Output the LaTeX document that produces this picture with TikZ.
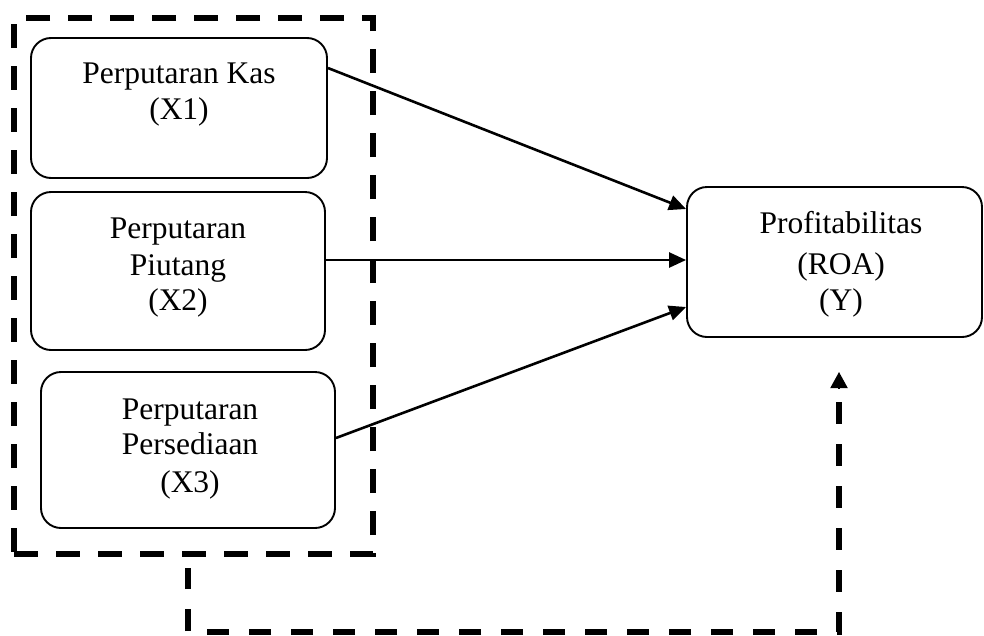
\documentclass[tikz,border=0pt]{standalone}
\usepackage{fontspec}
\setmainfont{Liberation Serif}
\usetikzlibrary{arrows.meta}
\begin{document}
\begin{tikzpicture}[x=1pt,y=-1pt,
  box/.style={draw, rounded corners=20pt, line width=1.9pt, inner sep=0pt},
  lbl/.style={anchor=base, inner sep=0pt, font=\fontsize{31.5}{37}\selectfont},
  arr/.style={line width=2.6pt, -{Triangle[length=17pt,width=15pt]}},
  grpline/.style={line width=5.5pt, dash pattern=on 24pt off 18pt},
  fbline/.style={line width=5.5pt, dash pattern=on 22pt off 20pt}]
\useasboundingbox (0,0) rectangle (984,635);
% group frame
\node[draw, grpline, minimum width=359pt, minimum height=536pt, inner sep=0pt] (grp) at (193.5,286) {};
% boxes
\node[box, minimum width=296pt, minimum height=140pt] (b1) at (179,108) {};
\node[box, minimum width=294pt, minimum height=158pt] (b2) at (178,271) {};
\node[box, minimum width=294pt, minimum height=156pt] (b3) at (188,450) {};
\node[box, minimum width=295pt, minimum height=150pt] (yb) at (834.5,262) {};
% labels
\node[lbl] (t1a) at (179,83) {Perputaran Kas};
\node[lbl] (t1b) at (179,119) {(X1)};
\node[lbl] (t2a) at (178,238) {Perputaran};
\node[lbl] (t2b) at (178,275) {Piutang};
\node[lbl] (t2c) at (178,310) {(X2)};
\node[lbl] (t3a) at (190,419) {Perputaran};
\node[lbl] (t3b) at (190,454) {Persediaan};
\node[lbl] (t3c) at (190,492) {(X3)};
\node[lbl] (tya) at (841,233) {Profitabilitas};
\node[lbl] (tyb) at (841,274) {(ROA)};
\node[lbl] (tyc) at (841,310) {(Y)};
% arrows
\draw[arr] ([yshift=40pt]b1.east) -- ([yshift=53pt]yb.west);
\draw[arr] ([yshift=11pt]b2.east) -- ([yshift=2pt]yb.west);
\draw[arr] ([yshift=12pt]b3.east) -- ([yshift=-45pt]yb.west);
% feedback
\coordinate (f0) at (188,568);
\coordinate (f1) at (188,632);
\coordinate (f2) at (839,632);
\coordinate (f3) at (839,402);
\coordinate (f4) at (839,388);
\coordinate (ftip) at (839,372);
\draw[fbline] (f3) -- (f2) -- (f1) -- (f0);
\draw[line width=2pt, -{Triangle[length=16pt,width=17pt]}] (f4) -- (ftip);
\end{tikzpicture}
\end{document}
